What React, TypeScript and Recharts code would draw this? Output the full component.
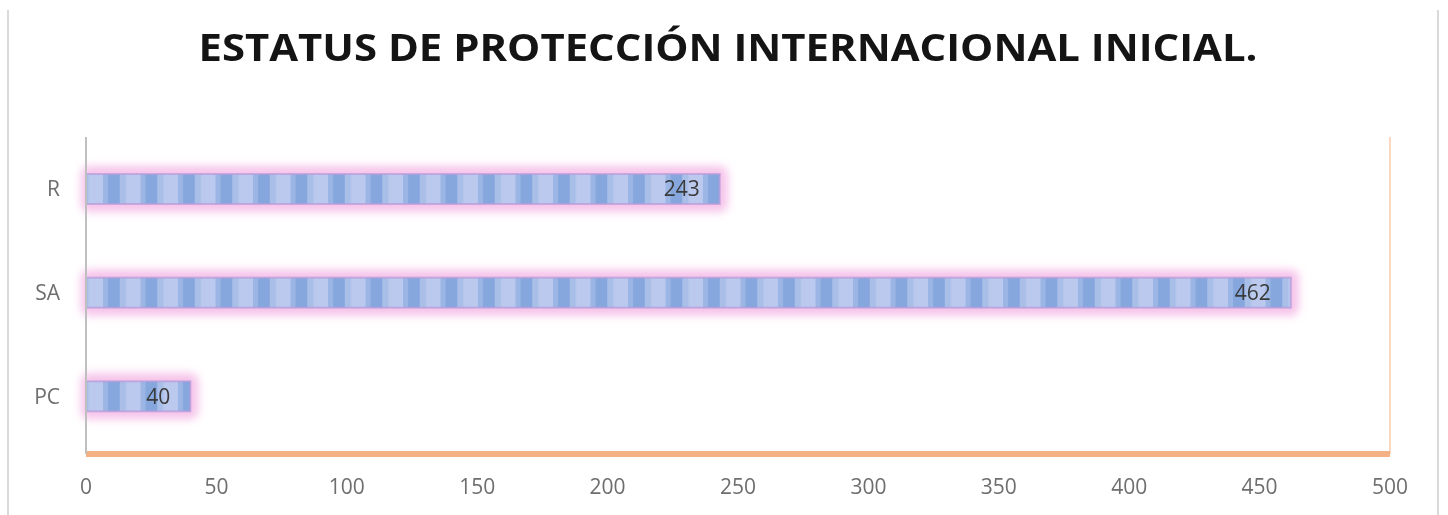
import { BarChart, Bar, XAxis, YAxis, LabelList, ReferenceLine } from "recharts";

const categories = ["R", "SA", "PC"];
const values = [243, 462, 40];
const xTicks = [0, 50, 100, 150, 200, 250, 300, 350, 400, 450, 500];

const data = categories.map((name, i) => ({ name, value: values[i] }));

const GlowBar = (props: any) => {
  const { x, y, width, height, index } = props;
  const pid = `stripes-${index}`;
  const fid = `glow-${index}`;
  return (
    <g>
      <defs>
        <pattern id={pid} patternUnits="userSpaceOnUse" x={28} y={0} width={37.5} height={200}>
          <rect x={0} y={0} width={37.5} height={200} fill="#bac9ed" />
          <rect x={0} y={0} width={5} height={200} fill="#9bb5e4" />
          <rect x={5} y={0} width={12} height={200} fill="#86a7dd" />
          <rect x={17} y={0} width={6} height={200} fill="#a9bfe8" />
        </pattern>
        <filter id={fid} x="-20%" y="-100%" width="140%" height="300%">
          <feGaussianBlur stdDeviation={4} />
        </filter>
      </defs>
      <rect x={x - 5} y={y - 8} width={width + 13} height={height + 16} rx={8} fill="#f6c3ea" filter={`url(#${fid})`} />
      <rect x={x} y={y} width={width} height={height} fill="#a9bfe8" />
      <rect x={x} y={y} width={width} height={height} fill={`url(#${pid})`} />
      <rect x={x} y={y} width={width} height={height} fill="none" stroke="#b99ada" strokeWidth={2} opacity={0.7} />
    </g>
  );
};

export default function App() {
  return (
    <div
      style={{
        position: "absolute",
        left: 0,
        top: 0,
        width: 1448,
        height: 515,
        background: "#fff",
        filter: "blur(0.7px)",
      }}
    >
      <svg width={1448} height={515} style={{ position: "absolute", left: 0, top: 0 }}>
        <line x1={8} y1={10} x2={8} y2={515} stroke="#d9d9d9" strokeWidth={2} />
        <line x1={1438} y1={10} x2={1438} y2={515} stroke="#d9d9d9" strokeWidth={2} />
        <text
          x={728}
          y={61}
          textAnchor="middle"
          textLength={1059}
          lengthAdjust="spacingAndGlyphs"
          fontFamily="'Open Sans', sans-serif"
          fontWeight={700}
          fontSize={38}
          fill="#141414"
        >
          ESTATUS DE PROTECCIÓN INTERNACIONAL INICIAL.
        </text>
      </svg>
      <div style={{ position: "absolute", left: 0, top: 0 }}>
        <BarChart
          width={1448}
          height={515}
          data={data}
          layout="vertical"
          margin={{ top: 137, right: 58, bottom: 21, left: 26 }}
          barSize={30}
        >
          <XAxis
            type="number"
            domain={[0, 500]}
            ticks={xTicks}
            interval={0}
            height={40}
            tickLine={false}
            tickSize={0}
            tickMargin={25}
            axisLine={{ stroke: "#f4b183", strokeWidth: 6 }}
            tick={{ fill: "#6e6e6e", fontSize: 21, fontFamily: "'Open Sans', sans-serif" }}
          />
          <YAxis
            type="category"
            dataKey="name"
            width={60}
            padding={{ top: 0, bottom: 6 }}
            tickLine={false}
            tickSize={0}
            tickMargin={26}
            axisLine={{ stroke: "#bfbfbf", strokeWidth: 2 }}
            tick={{ fill: "#6e6e6e", fontSize: 21, fontFamily: "'Open Sans', sans-serif" }}
          />
          <ReferenceLine x={500} stroke="#f8cbad" strokeWidth={1.5} />
          <Bar dataKey="value" isAnimationActive={false} shape={(p: any) => <GlowBar {...p} />}>
            <LabelList
              dataKey="value"
              position="insideRight"
              offset={20}
              fill="#3a3a3a"
              fontSize={21}
              fontFamily="'Open Sans', sans-serif"
            />
          </Bar>
        </BarChart>
      </div>
    </div>
  );
}
